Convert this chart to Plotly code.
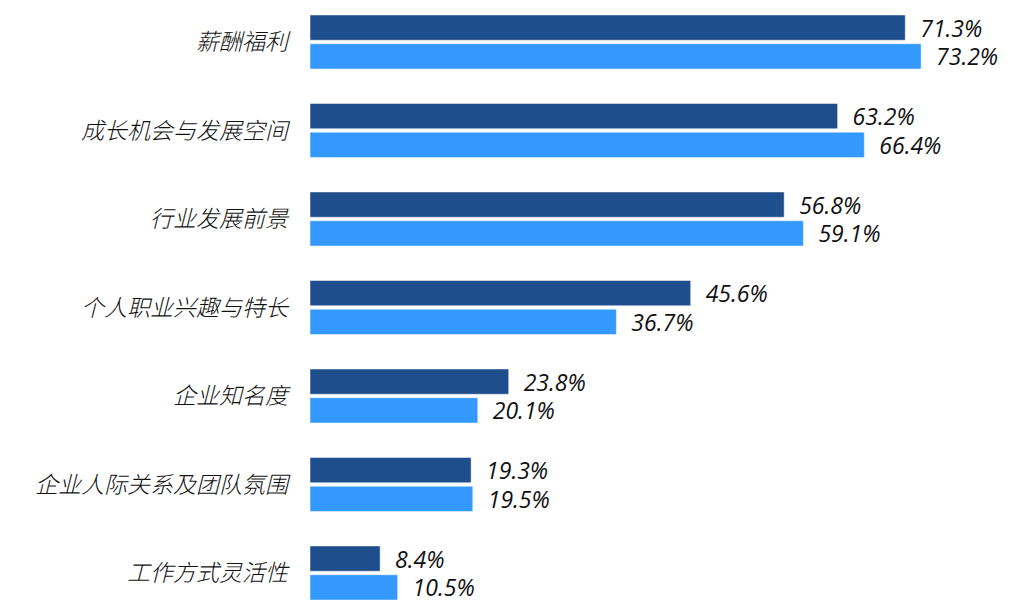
import plotly.graph_objects as go

categories = ["薪酬福利", "成长机会与发展空间", "行业发展前景", "个人职业兴趣与特长",
              "企业知名度", "企业人际关系及团队氛围", "工作方式灵活性"]
series_a = [71.3, 63.2, 56.8, 45.6, 23.8, 19.3, 8.4]
series_b = [73.2, 66.4, 59.1, 36.7, 20.1, 19.5, 10.5]

CJK = "Noto Sans CJK SC"
NUM = "Open Sans"
fig = go.Figure()
for vals, name, color in [(series_a, "系列1", "#1F4E8C"), (series_b, "系列2", "#3399FF")]:
    fig.add_trace(go.Bar(
        y=categories, x=vals, orientation="h", name=name,
        marker=dict(color=color, line=dict(color="#FFFFFF", width=0.5)),
        texttemplate="  %{x:.1f}%", textposition="outside", constraintext="none",
        cliponaxis=False,
        textfont=dict(family=NUM, size=23, color="#111111", style="italic", weight=400),
    ))
fig.update_layout(
    width=1028, height=613,
    margin=dict(l=310, r=0, t=0, b=0),
    barmode="group", bargap=0.35, bargroupgap=0.12,
    showlegend=False,
    plot_bgcolor="white", paper_bgcolor="white",
    xaxis=dict(range=[0, 86], visible=False, showgrid=False, zeroline=False),
    yaxis=dict(type="category", categoryorder="array", categoryarray=categories,
               range=[6.452, -0.4746], showgrid=False, zeroline=False,
               showline=False, ticks="", ticklabelstandoff=21,
               tickfont=dict(family=CJK, size=23, color="#111111", style="italic", weight=300)),
)
fig.write_html("out.html")
